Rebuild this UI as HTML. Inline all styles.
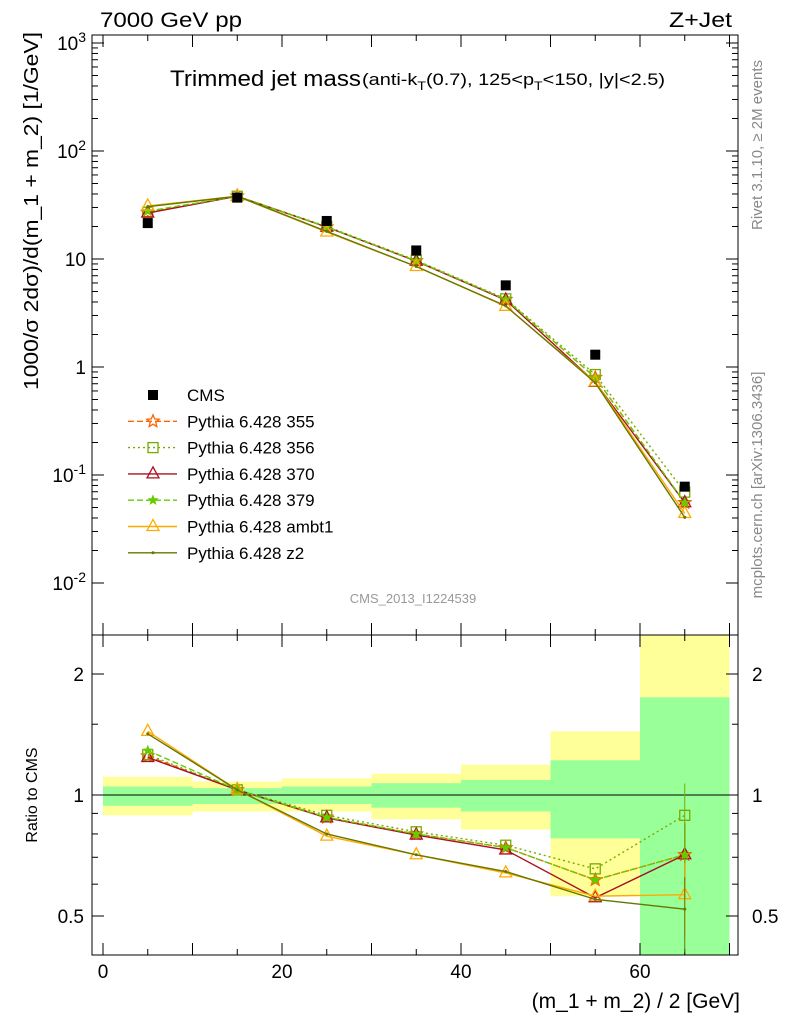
<!DOCTYPE html>
<html><head><meta charset="utf-8"><style>
body{margin:0;background:#fff;font-family:"Liberation Sans",sans-serif}
svg text{font-family:"Liberation Sans",sans-serif}
</style></head><body>
<svg id="c" width="786" height="1024" xmlns="http://www.w3.org/2000/svg"></svg>
<script>
const binEdges=[0,10,20,30,40,50,60,70];
const xCenters=[5,15,25,35,45,55,65];
const cmsVals=[21.5,37,22.5,12,5.7,1.3,0.078];
const r355=[1.25,1.03,0.88,0.80,0.74,0.615,0.71];
const r356=[1.26,1.03,0.89,0.81,0.75,0.655,0.89];
const r370=[1.24,1.03,0.877,0.795,0.73,0.555,0.71];
const r379=[1.29,1.03,0.88,0.80,0.74,0.615,0.71];
const rAmbt1=[1.44,1.03,0.79,0.71,0.64,0.56,0.565];
const rZ2=[1.42,1.03,0.80,0.71,0.645,0.55,0.52];
const yellowLo=[0.89,0.91,0.91,0.87,0.82,0.56,0.40];
const yellowHi=[1.11,1.08,1.10,1.13,1.19,1.44,2.6];
const greenLo=[0.94,0.95,0.95,0.93,0.91,0.78,0.40];
const greenHi=[1.05,1.04,1.05,1.07,1.09,1.22,1.75];
const xTicks=[0,20,40,60];
const yMainTicks=[0.01,0.1,1,10,100,1000];
const yMainLabels=["10^-2","10^-1","1","10","10^2","10^3"];
const yRatioTicks=[0.5,1,2];

const S=document.getElementById('c');const NS='http://www.w3.org/2000/svg';
function el(t,a,p){const e=document.createElementNS(NS,t);for(const k in a)e.setAttribute(k,a[k]);(p||S).appendChild(e);return e;}
const L=92,R=738,T=35,M=635,B=955;
const X=v=>103+v*8.95;
const Y=v=>43+(3-Math.log10(v))*108;
const YR=v=>795-Math.log2(v)*121;

binEdges.slice(0,-1).forEach((e,i)=>{
 const y=el('rect',{x:X(e),y:Math.max(M,YR(yellowHi[i])),width:X(binEdges[i+1])-X(e),height:Math.min(B,YR(yellowLo[i]))-Math.max(M,YR(yellowHi[i])),fill:'#ffff99'});
 
 
 const g=el('rect',{x:X(e),y:Math.max(M,YR(greenHi[i])),width:X(binEdges[i+1])-X(e),height:Math.min(B,YR(greenLo[i]))-Math.max(M,YR(greenHi[i])),fill:'#99ff99'});
 
 
});
el('line',{x1:L,x2:R,y1:YR(1),y2:YR(1),stroke:'#000'});

el('rect',{x:L,y:T,width:R-L,height:M-T,fill:'none',stroke:'#000'});
el('rect',{x:L,y:M,width:R-L,height:B-M,fill:'none',stroke:'#000'});

yMainTicks.forEach((v,i)=>{
 const y=Y(v);
 el('line',{x1:L,x2:L+12,y1:y,y2:y,stroke:'#000'});el('line',{x1:R,x2:R-12,y1:y,y2:y,stroke:'#000'});
 for(let k=2;k<10;k++){const yy=Y(v*k);if(yy<T)break;el('line',{x1:L,x2:L+6,y1:yy,y2:yy,stroke:'#000'});el('line',{x1:R,x2:R-6,y1:yy,y2:yy,stroke:'#000'});}
 const lab=yMainLabels[i];const t=el('text',{x:L-6,y:y+7,'text-anchor':'end','font-size':19});
 if(lab.includes('^')){const [b,e]=lab.split('^');t.textContent=b;const s=el('tspan',{dy:-8,'font-size':14},t);s.textContent=e;}else t.textContent=lab;
 
});
yRatioTicks.forEach(v=>{const y=YR(v);
 el('line',{x1:L,x2:L+12,y1:y,y2:y,stroke:'#000'});el('line',{x1:R,x2:R-12,y1:y,y2:y,stroke:'#000'});
 const t=el('text',{x:L-8,y:y+7,'text-anchor':'end','font-size':19});t.textContent=v;
 const t2=el('text',{x:R+14,y:y+7,'font-size':19});t2.textContent=v;});
[0.6,0.7,0.8,0.9,1.5].forEach(v=>{const y=YR(v);el('line',{x1:L,x2:L+6,y1:y,y2:y,stroke:'#000'});el('line',{x1:R,x2:R-6,y1:y,y2:y,stroke:'#000'});});
for(let v=0;v<=70;v+=5){const big=v%10===0;[M,B].forEach(yb=>{el('line',{x1:X(v),x2:X(v),y1:yb,y2:yb-(big?12:6),stroke:'#000'});});
 el('line',{x1:X(v),x2:X(v),y1:T,y2:T+(big?12:6),stroke:'#000'});el('line',{x1:X(v),x2:X(v),y1:M,y2:M+(big?12:6),stroke:'#000'});}
xTicks.forEach(v=>{const t=el('text',{x:X(v),y:978,'text-anchor':'middle','font-size':19});t.textContent=v;});

const series=[
 {n:'355',r:r355,c:'#ff6600',d:'6,3',m:'star'},
 {n:'356',r:r356,c:'#77aa00',d:'2,3',m:'sq'},
 {n:'370',r:r370,c:'#aa1122',d:'',m:'tri'},
 {n:'379',r:r379,c:'#66cc00',d:'6,3',m:'fstar'},
 {n:'ambt1',r:rAmbt1,c:'#ffaa00',d:'',m:'tri'},
 {n:'z2',r:rZ2,c:'#667700',d:'',m:'dot'}];
function starPts(x,y,r){let p=[];for(let k=0;k<10;k++){const a=-Math.PI/2+k*Math.PI/5;const rr=k%2?r*0.45:r;p.push((x+rr*Math.cos(a)).toFixed(1)+','+(y+rr*Math.sin(a)).toFixed(1));}return p.join(' ');}
function marker(m,x,y,c,g){
 if(m==='sq')el('rect',{x:x-5,y:y-5,width:10,height:10,fill:'none',stroke:c,'stroke-width':1.3},g);
 else if(m==='tri')el('polygon',{points:`${x},${y-7} ${x-6},${y+4} ${x+6},${y+4}`,fill:'none',stroke:c,'stroke-width':1.3},g);
 else if(m==='star')el('polygon',{points:starPts(x,y,6.5),fill:'none',stroke:c,'stroke-width':1.3},g);
 else if(m==='fstar')el('polygon',{points:starPts(x,y,4.5),fill:c,stroke:c},g);
 else el('circle',{cx:x,cy:y,r:1.5,fill:c},g);
}
series.forEach(s=>{
 const g=el('g',{});
 const mp=xCenters.map((x,i)=>[X(x),Y(s.r[i]*cmsVals[i])]);
 const rp=xCenters.map((x,i)=>[X(x),YR(s.r[i])]);
 [mp,rp].forEach(p=>{el('polyline',{points:p.map(q=>q.join(',')).join(' '),fill:'none',stroke:s.c,'stroke-width':1.4,'stroke-dasharray':s.d},g);p.forEach(q=>marker(s.m,q[0],q[1],s.c,g));});
 el('line',{x1:X(65),x2:X(65),y1:YR(s.r[6]*1.2),y2:YR(s.r[6]*0.78),stroke:s.c},g);
});
cmsVals.forEach((v,i)=>{const r=el('rect',{x:X(xCenters[i])-5,y:Y(v)-5,width:10,height:10,fill:'#000'});});

const leg=[['CMS',null],['Pythia 6.428 355',series[0]],['Pythia 6.428 356',series[1]],['Pythia 6.428 370',series[2]],['Pythia 6.428 379',series[3]],['Pythia 6.428 ambt1',series[4]],['Pythia 6.428 z2',series[5]]];
leg.forEach((l,i)=>{const y=395+i*26.3;const g=el('g',{});
 if(!l[1])el('rect',{x:148,y:y-5,width:10,height:10,fill:'#000'},g);
 else{el('line',{x1:128,x2:177,y1:y,y2:y,stroke:l[1].c,'stroke-width':1.4,'stroke-dasharray':l[1].d},g);marker(l[1].m,153,y,l[1].c,g);}
 const t=el('text',{x:187,y:y+6,'font-size':17},g);t.textContent=l[0];});

function tx(x,y,s,str,a,extra){const t=el('text',Object.assign({x:x,y:y,'font-size':s,'text-anchor':a||'start'},extra||{}));t.textContent=str;return t;}
tx(100,27,21,'7000 GeV pp','start',{textLength:142,lengthAdjust:'spacingAndGlyphs'});
tx(669,27,21,'Z+Jet','start',{textLength:63,lengthAdjust:'spacingAndGlyphs'});
const ti=tx(170,86,22,'Trimmed jet mass','start',{textLength:191,lengthAdjust:'spacingAndGlyphs'});
const t2=el('text',{x:362,y:85,'font-size':17,textLength:303,lengthAdjust:'spacingAndGlyphs'});t2.innerHTML='(anti-k<tspan dy="5" font-size="12">T</tspan><tspan dy="-5">(0.7), 125&lt;p</tspan><tspan dy="5" font-size="12">T</tspan><tspan dy="-5">&lt;150, |y|&lt;2.5)</tspan>';


tx(413,603,13,'CMS_2013_I1224539','middle',{fill:'#999'});
tx(740,1008,21,'(m_1 + m_2) / 2 [GeV]','end');
const yt=tx(0,0,20,'1000/σ 2dσ)/d(m_1 + m_2) [1/GeV]','middle',{transform:'translate(38,211) rotate(-90)',textLength:358,lengthAdjust:'spacingAndGlyphs'});
tx(0,0,16,'Ratio to CMS','middle',{transform:'translate(37,795) rotate(-90)'});
tx(0,0,15,'Rivet 3.1.10, ≥ 2M events','middle',{transform:'translate(762,145) rotate(-90)',fill:'#888'});
tx(0,0,15,'mcplots.cern.ch [arXiv:1306.3436]','middle',{transform:'translate(762,485) rotate(-90)',fill:'#888'});
</script>
</body></html>
